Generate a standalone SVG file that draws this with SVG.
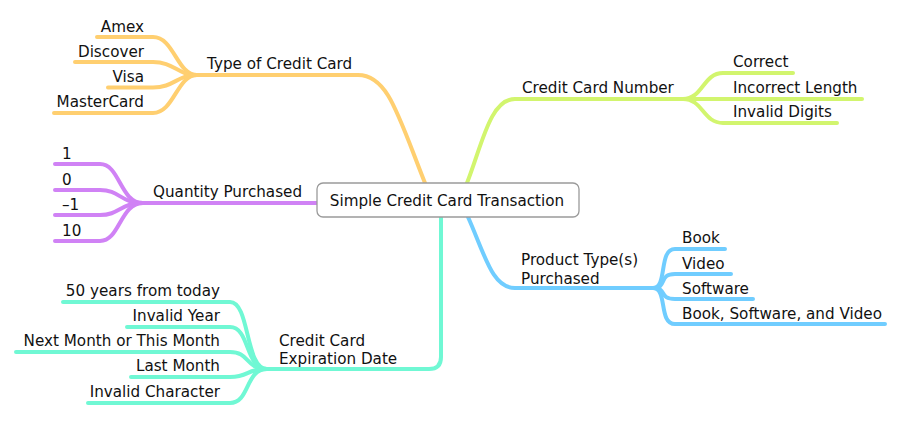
<svg xmlns="http://www.w3.org/2000/svg" width="900" height="434" viewBox="0 0 900 434">
<style>
text{font-family:"DejaVu Sans","Liberation Sans",sans-serif;font-size:15.2px;fill:#111}
.e{text-anchor:end}
path{fill:none;stroke-width:4;stroke-linecap:round;stroke-linejoin:round}
.or{stroke:#FFCF70}
.gr{stroke:#D2F56E}
.pu{stroke:#D082F5}
.bl{stroke:#70CDFF}
.cy{stroke:#70F8D4}
</style>
<rect width="900" height="434" fill="#fff"/>
<g id="connectors">
<path class="or" d="M425 183 C398 115 388 75 358 75 H197"/>
<path class="or" d="M197 75 C177 75 174 37 153 37 H97"/>
<path class="or" d="M197 75 C177 75 174 62 153 62 H75"/>
<path class="or" d="M197 75 C177 75 174 87.5 153 87.5 H108"/>
<path class="or" d="M197 75 C177 75 174 113 153 113 H54"/>
<path class="gr" d="M467 183 C482 145 490 99 515 99 H683"/>
<path class="gr" d="M683 99 C703 99 703 73 723 73 H793"/>
<path class="gr" d="M683 99 H862"/>
<path class="gr" d="M683 99 C703 99 703 123 723 123 H837"/>
<path class="pu" d="M317 203 H143"/>
<path class="pu" d="M143 203 C120 203 120 164 100 164 H55"/>
<path class="pu" d="M143 203 C120 203 120 190 100 190 H55"/>
<path class="pu" d="M143 203 C120 203 120 215 100 215 H55"/>
<path class="pu" d="M143 203 C120 203 120 241 100 241 H55"/>
<path class="bl" d="M468 217 C485 255 492 288 515 288 H653"/>
<path class="bl" d="M653 288 C668 288 658 249 675 249 H725"/>
<path class="bl" d="M653 288 C668 288 658 274 675 274 H731"/>
<path class="bl" d="M653 288 C668 288 658 299 675 299 H753"/>
<path class="bl" d="M653 288 C668 288 658 324 675 324 H885"/>
<path class="cy" d="M441 217 V357 Q441 369 429 369 H267"/>
<path class="cy" d="M267 369 C245 369 250 302 230 302 H63"/>
<path class="cy" d="M267 369 C245 369 250 327 230 327 H127"/>
<path class="cy" d="M267 369 C245 369 250 352 230 352 H16"/>
<path class="cy" d="M267 369 C245 369 250 377 230 377 H131"/>
<path class="cy" d="M267 369 C245 369 250 403 230 403 H88"/>
</g>
<g id="root">
<rect x="317" y="183" width="262" height="34" rx="6" fill="#fff" stroke="#9a9a9a" stroke-width="1.3"/>
<text x="447" y="206" text-anchor="middle">Simple Credit Card Transaction</text>
</g>
<g id="type-of-credit-card"><text x="207" y="69">Type of Credit Card</text></g>
<g id="amex"><text class="e" x="144" y="32">Amex</text></g>
<g id="discover"><text class="e" x="144" y="57">Discover</text></g>
<g id="visa"><text class="e" x="144" y="82">Visa</text></g>
<g id="mastercard"><text class="e" x="144" y="107">MasterCard</text></g>
<g id="credit-card-number"><text x="522" y="93">Credit Card Number</text></g>
<g id="correct"><text x="733" y="67">Correct</text></g>
<g id="incorrect-length"><text x="733" y="93">Incorrect Length</text></g>
<g id="invalid-digits"><text x="733" y="117">Invalid Digits</text></g>
<g id="quantity-purchased"><text x="153" y="197">Quantity Purchased</text></g>
<g id="q1"><text x="62" y="159">1</text></g>
<g id="q0"><text x="62" y="185">0</text></g>
<g id="qm1"><text x="62" y="210">–1</text></g>
<g id="q10"><text x="62" y="236">10</text></g>
<g id="product-types"><text x="521" y="265">Product Type(s)</text><text x="521" y="283.5">Purchased</text></g>
<g id="book"><text x="682" y="243">Book</text></g>
<g id="video"><text x="682" y="269">Video</text></g>
<g id="software"><text x="682" y="294">Software</text></g>
<g id="book-software-video"><text x="682" y="319">Book, Software, and Video</text></g>
<g id="expiration-date"><text x="279" y="346">Credit Card</text><text x="279" y="364">Expiration Date</text></g>
<g id="fifty-years"><text class="e" x="220" y="296">50 years from today</text></g>
<g id="invalid-year"><text class="e" x="220" y="321">Invalid Year</text></g>
<g id="next-month"><text class="e" x="220" y="346">Next Month or This Month</text></g>
<g id="last-month"><text class="e" x="220" y="371">Last Month</text></g>
<g id="invalid-character"><text class="e" x="220" y="397">Invalid Character</text></g>
</svg>
